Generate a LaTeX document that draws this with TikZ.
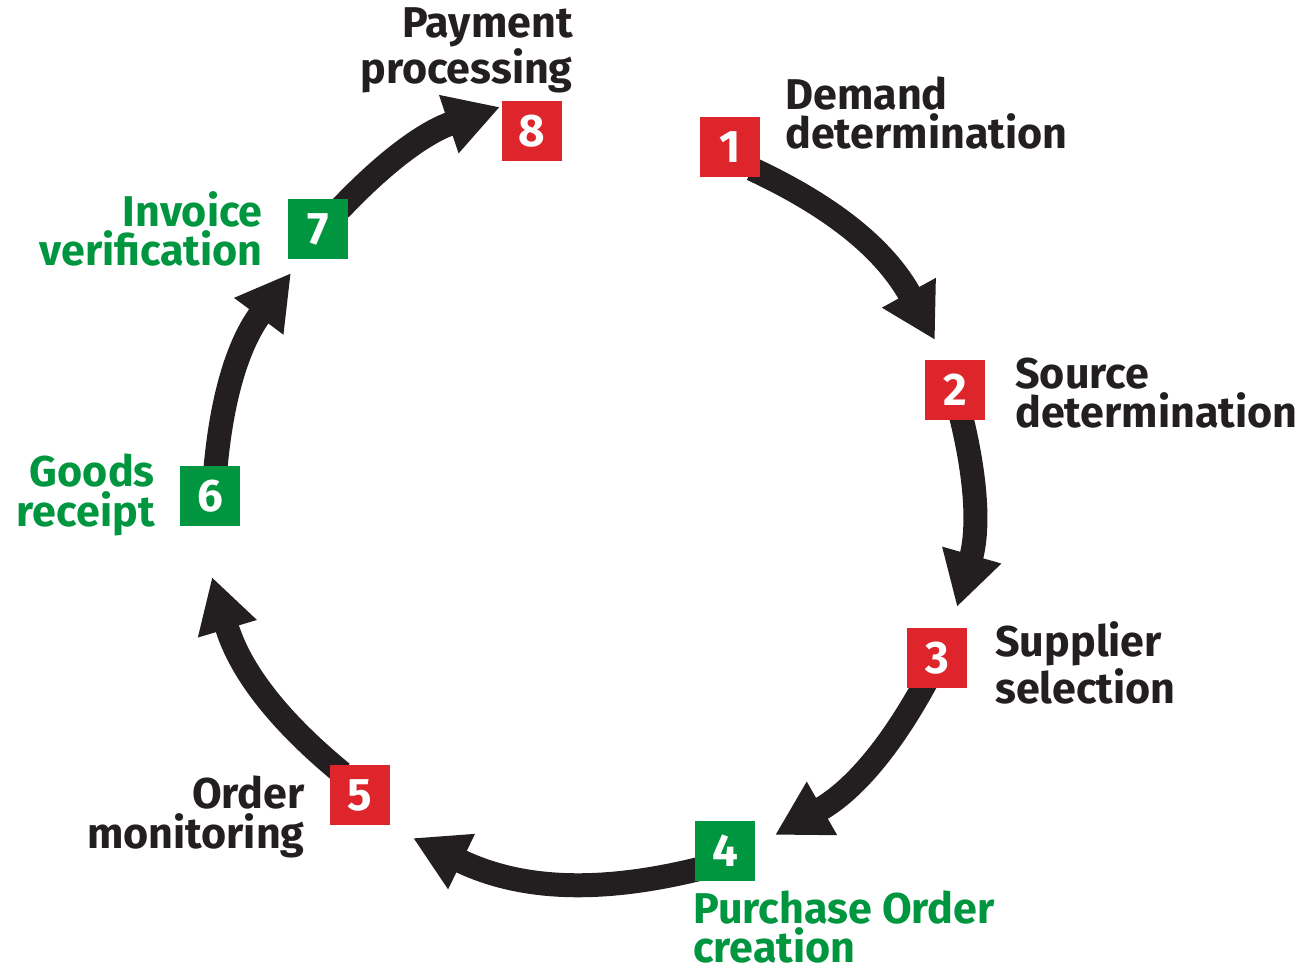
\documentclass[tikz,border=0pt]{standalone}
\usepackage{fontspec}
\setsansfont{Fira Sans}
\usetikzlibrary{arrows.meta,backgrounds}
\definecolor{stepred}{RGB}{221,37,43}
\definecolor{stepgreen}{RGB}{0,150,64}
\definecolor{ink}{RGB}{35,31,32}
\newlength{\boxsize}
\setlength{\boxsize}{1.2cm}

\begin{document}
\begin{tikzpicture}[x=0.02cm,y=-0.02cm,
  stepbox/.style={fill=#1,minimum size=\boxsize,inner sep=0pt,text=white,font=\sffamily\bfseries\fontsize{26}{26}\selectfont},
  steptext/.style={inner sep=0pt,text=#1,font=\sffamily\bfseries\fontsize{24.5}{22.5}\selectfont},
  flow/.style={ink,line width=0.48cm,-{Triangle[length=1.08cm,width=1.15cm]}}]
  \useasboundingbox (0,0) rectangle (1312,974);
            % numbered steps
            \node[stepbox=stepred] (s1) at (730,147) {1};
            \node[stepbox=stepred] (s2) at (955,390) {2};
            \node[stepbox=stepred] (s3) at (937,658) {3};
            \node[stepbox=stepgreen] (s4) at (725,851) {4};
            \node[stepbox=stepred] (s5) at (360,795) {5};
            \node[stepbox=stepgreen] (s6) at (210,496) {6};
            \node[stepbox=stepgreen] (s7) at (318,229) {7};
            \node[stepbox=stepred] (s8) at (532,131) {8};
            % labels
            \node[steptext=ink,anchor=west,align=left] (l1) at (785,113) {Demand\\determination};
            \node[steptext=ink,anchor=west,align=left] (l2) at (1015,393) {Source\\determination};
            \node[steptext=ink,anchor=west,align=left] (l3) at (995,663) {Supplier\\selection};
            \node[steptext=stepgreen,anchor=west,align=left] (l4) at (693,927) {Purchase Order\\creation};
            \node[steptext=ink,anchor=east,align=right] (l5) at (305,817) {Order\\monitoring};
            \node[steptext=stepgreen,anchor=east,align=right] (l6) at (155,495) {Goods\\receipt};
            \node[steptext=stepgreen,anchor=east,align=right] (l7) at (263,229) {Invoice\\verification};
            \node[steptext=ink,anchor=east,align=right] (l8) at (573,50) {Payment\\processing};
            % cycle
            \begin{scope}[on background layer]
            \draw[flow] ([shift={(22,22)}]s1.center) to[bend left=18] ([shift={(-20,-50)}]s2.center);
            \draw[flow] ([shift={(5,22)}]s2.center) to[bend left=15] ([shift={(20,-51)}]s3.center);
            \draw[flow] ([shift={(-10,22)}]s3.center) to[bend left=16] ([shift={(50,-16)}]s4.center);
            \draw[flow] ([shift={(-22,17)}]s4.center) to[bend left=20] ([shift={(53,43)}]s5.center);
            \draw[flow] ([shift={(-18,-22)}]s5.center) to[bend left=17] ([shift={(2,81)}]s6.center);
            \draw[flow] ([shift={(5,-22)}]s6.center) to[bend left=16] ([shift={(-27,44)}]s7.center);
            \draw[flow] ([shift={(22,-20)}]s7.center) to[bend left=14] ([shift={(-32,-24)}]s8.center);
            \end{scope}
\end{tikzpicture}
\end{document}
